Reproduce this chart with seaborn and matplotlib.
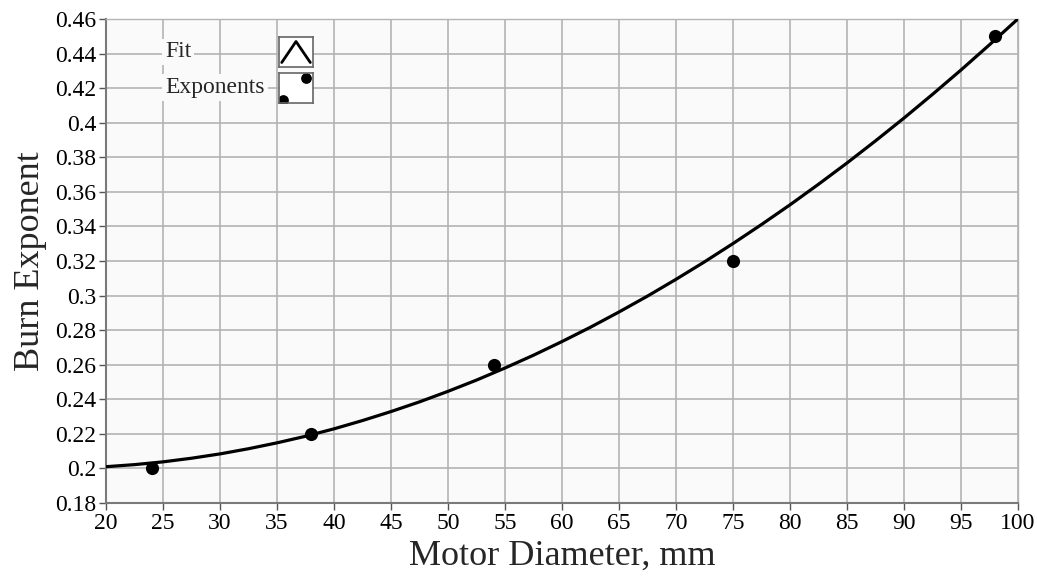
import matplotlib
matplotlib.use("Agg")
import matplotlib.pyplot as plt
import seaborn as sns
import pandas as pd

# data
diam_pts = [24, 38, 54, 75, 98]
exp_pts = [0.200, 0.220, 0.260, 0.320, 0.450]

fit_x = [20, 22.5, 25, 27.5, 30, 32.5, 35, 37.5, 40, 42.5, 45, 47.5, 50, 52.5, 55, 57.5, 60,
         62.5, 65, 67.5, 70, 72.5, 75, 77.5, 80, 82.5, 85, 87.5, 90, 92.5, 95, 97.5, 100]
fit_y = [0.2010, 0.2022, 0.2038, 0.2059, 0.2084, 0.2114, 0.2148, 0.2186, 0.2229, 0.2277,
         0.2329, 0.2385, 0.2446, 0.2511, 0.2581, 0.2655, 0.2734, 0.2817, 0.2905, 0.2997,
         0.3094, 0.3195, 0.3301, 0.3411, 0.3525, 0.3644, 0.3767, 0.3895, 0.4027, 0.4164,
         0.4305, 0.4451, 0.4601]

x_ticks = list(range(20, 101, 5))
y_ticks = [0.18, 0.2, 0.22, 0.24, 0.26, 0.28, 0.3, 0.32, 0.34, 0.36, 0.38, 0.4, 0.42, 0.44, 0.46]
y_ticklabels = ["0.18", "0.2", "0.22", "0.24", "0.26", "0.28", "0.3", "0.32", "0.34",
                "0.36", "0.38", "0.4", "0.42", "0.44", "0.46"]

sns.set_style("white")
plt.rcParams["font.family"] = ["Liberation Serif", "DejaVu Serif"]

fig = plt.figure(figsize=(10.37, 5.79), dpi=100)
ax = fig.add_axes([106 / 1037, 76 / 579, 912 / 1037, 484 / 579])
bg = "#fafafa"
ax.set_facecolor(bg)

fit_df = pd.DataFrame({"x": fit_x, "y": fit_y})
pts_df = pd.DataFrame({"x": diam_pts, "y": exp_pts})

sns.lineplot(data=fit_df, x="x", y="y", ax=ax, color="black", linewidth=2.3, zorder=3)
sns.scatterplot(data=pts_df, x="x", y="y", ax=ax, color="black", s=90, edgecolor="black",
                linewidth=0, zorder=4)

ax.set_xlim(20, 100)
ax.set_ylim(0.18, 0.46)
ax.set_xticks(x_ticks)
ax.set_yticks(y_ticks)
ax.set_yticklabels(y_ticklabels)
ax.grid(True, color="#b4b4b4", linewidth=1.2, zorder=0)
ax.set_axisbelow(True)

for s in ["top", "right"]:
    ax.spines[s].set_color("#b4b4b4")
    ax.spines[s].set_linewidth(1.0)
for s in ["left", "bottom"]:
    ax.spines[s].set_color("#7a7a7a")
    ax.spines[s].set_linewidth(1.5)

ax.tick_params(axis="both", which="both", direction="out", length=5, width=1.0,
               color="#555555", labelsize=17, labelcolor="#000000", pad=2,
               left=True, bottom=True)

ax.set_xlabel("Motor Diameter, mm", fontsize=26, labelpad=4)
ax.set_ylabel("Burn Exponent", fontsize=26, labelpad=6)

# legend (LabVIEW style)
ax.text(0.065, 0.932, "Fit", transform=ax.transAxes, fontsize=17, va="center", ha="left",
        bbox=dict(facecolor=bg, edgecolor="none", pad=2), zorder=5)
ax.text(0.065, 0.858, "Exponents", transform=ax.transAxes, fontsize=17, va="center", ha="left",
        bbox=dict(facecolor=bg, edgecolor="none", pad=2), zorder=5)

icon1 = ax.inset_axes([0.1897, 0.9008, 0.0373, 0.062])
icon1.plot([0.08, 0.5, 0.92], [0.15, 0.85, 0.15], color="black", linewidth=2.0)
icon2 = ax.inset_axes([0.1897, 0.8264, 0.0373, 0.062])
icon2.scatter([0.12, 0.8], [0.1, 0.85], s=60, color="black", linewidth=0, clip_on=True)
for ic in (icon1, icon2):
    ic.set_xlim(0, 1)
    ic.set_ylim(0, 1)
    ic.set_xticks([])
    ic.set_yticks([])
    ic.set_facecolor("white")
    for s in ic.spines.values():
        s.set_color("#666666")
        s.set_linewidth(1.2)

fig.savefig("out.png", dpi=100, facecolor="white")
